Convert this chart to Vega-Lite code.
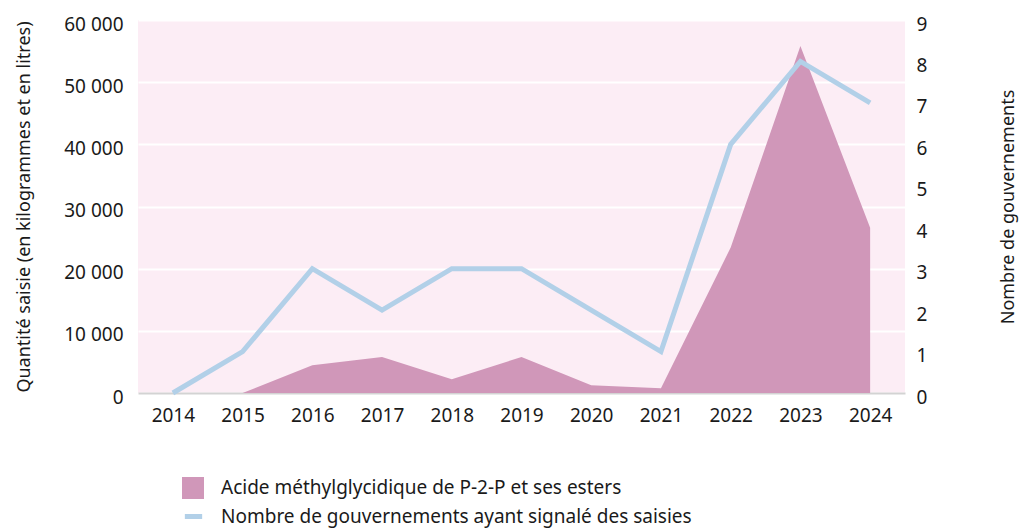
{
  "$schema": "https://vega.github.io/schema/vega-lite/v6.json",
  "width": 767,
  "height": 373,
  "autosize": {"type": "none"},
  "padding": {"left": 138, "top": 20, "right": 114, "bottom": 138},
  "background": "white",
  "config": {
    "font": "Noto Sans",
    "view": {"fill": "#fcedf5", "stroke": null},
    "axis": {"labelFont": "Noto Sans", "titleFont": "Noto Sans", "labelColor": "#1a1a1a", "titleColor": "#1a1a1a", "labelFontSize": 19, "titleFontSize": 18, "titleFontWeight": "normal", "ticks": false},
    "legend": {"labelFont": "Noto Sans", "labelFontSize": 19, "labelColor": "#1a1a1a", "labelLimit": 800, "padding": 0, "labelOffset": 17, "orient": "none"}
  },
  "data": {
    "values": [
      {"year": "2014", "qty": 0, "gov": 0},
      {"year": "2015", "qty": 0, "gov": 1},
      {"year": "2016", "qty": 4450, "gov": 3},
      {"year": "2017", "qty": 5800, "gov": 2},
      {"year": "2018", "qty": 2200, "gov": 3},
      {"year": "2019", "qty": 5800, "gov": 3},
      {"year": "2020", "qty": 1250, "gov": 2},
      {"year": "2021", "qty": 750, "gov": 1},
      {"year": "2022", "qty": 23400, "gov": 6},
      {"year": "2023", "qty": 55800, "gov": 8},
      {"year": "2024", "qty": 26600, "gov": 7}
    ]
  },
  "encoding": {
    "x": {
      "field": "year",
      "type": "ordinal",
      "scale": {"type": "point", "padding": 0.5},
      "axis": {"title": null, "labelAngle": 0, "labelPadding": 13, "domain": true, "domainColor": "#d3d3d3", "domainWidth": 2, "grid": false}
    }
  },
  "layer": [
    {
      "mark": {"type": "area", "opacity": 1, "interpolate": "linear"},
      "encoding": {
        "y": {
          "field": "qty",
          "type": "quantitative",
          "scale": {"domain": [0, 60000]},
          "axis": {"title": "Quantité saisie (en kilogrammes et en litres)", "values": [0, 10000, 20000, 30000, 40000, 50000, 60000], "labelExpr": "replace(format(datum.value, ','), ',', ' ')", "labelPadding": 15, "labelOffset": 4, "titlePadding": 30, "domain": false, "grid": true, "gridColor": "white", "gridWidth": 2}
        },
        "fill": {
          "datum": "Acide méthylglycidique de P-2-P et ses esters",
          "type": "nominal",
          "scale": {"range": ["#d097b9"]},
          "legend": {
            "title": null,
            "legendX": 44,
            "legendY": 457,
            "symbolType": "square",
            "symbolSize": 484,
            "symbolOpacity": 1,
            "symbolStrokeWidth": 0
          }
        }
      }
    },
    {
      "mark": {"type": "line", "strokeWidth": 5, "strokeCap": "butt", "strokeJoin": "miter"},
      "encoding": {
        "y": {
          "field": "gov",
          "type": "quantitative",
          "scale": {"domain": [0, 9]},
          "axis": {"orient": "right", "title": "Nombre de gouvernements", "titleAngle": 270, "values": [0, 1, 2, 3, 4, 5, 6, 7, 8, 9], "labelPadding": 11, "labelOffset": 4, "titlePadding": 91, "domain": false, "grid": false}
        },
        "stroke": {
          "datum": "Nombre de gouvernements ayant signalé des saisies",
          "type": "nominal",
          "scale": {"range": ["#b2d0e8"]},
          "legend": {
            "title": null,
            "legendX": 44,
            "legendY": 485,
            "symbolType": "stroke",
            "symbolSize": 300,
            "symbolStrokeWidth": 5,
            "symbolOpacity": 1,
            "labelOffset": 16
          }
        }
      }
    }
  ],
  "resolve": {"scale": {"y": "independent"}}
}
